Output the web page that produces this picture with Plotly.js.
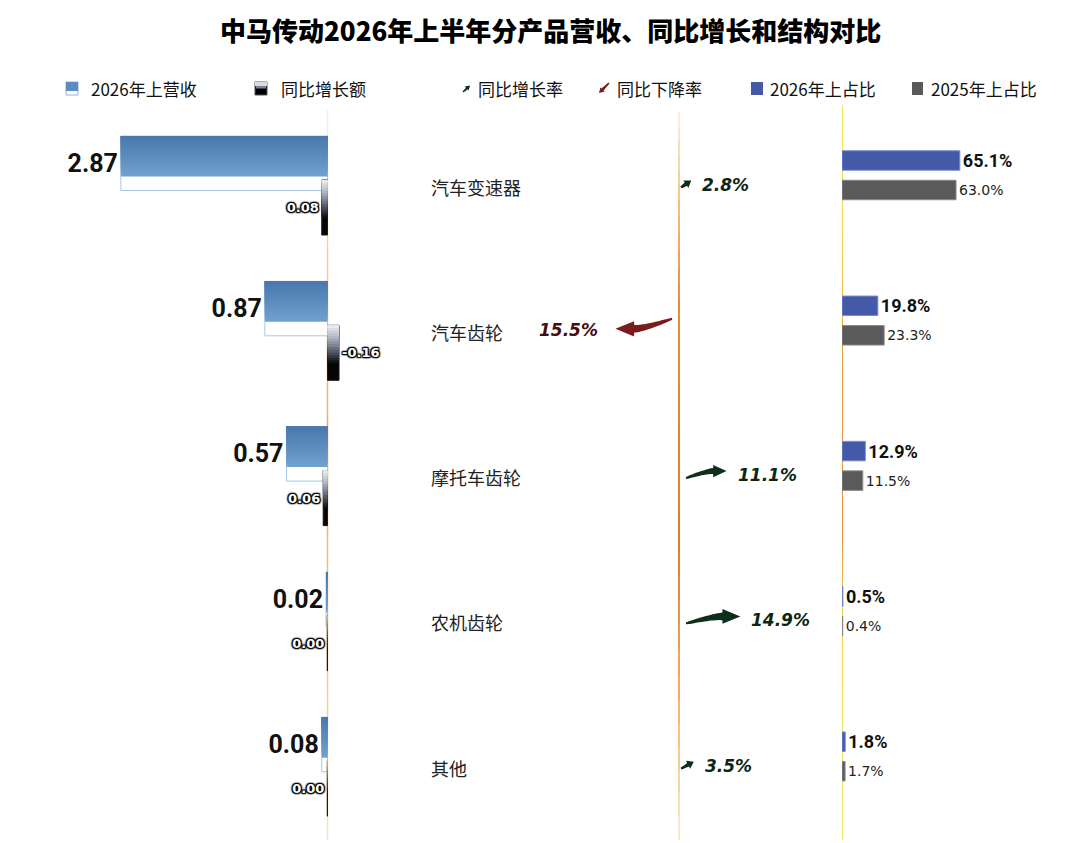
<!DOCTYPE html>
<html><head><meta charset="utf-8">
<script src="https://cdn.plot.ly/plotly-3.0.1.min.js"></script>
<style>html,body{margin:0;padding:0;background:#fff;} #chart{width:1080px;height:843px;}</style>
</head><body><div id="chart"></div>
<script>
// ---------------- data ----------------
const categories   = ['汽车变速器', '汽车齿轮', '摩托车齿轮', '农机齿轮', '其他'];
const revenue2026  = [2.87, 0.87, 0.57, 0.02, 0.08];      // 2026年上营收
const revenueChange= [0.08, -0.16, 0.06, 0.003, 0.003];   // 同比增长额
const changeRate   = [2.8, -15.5, 11.1, 14.9, 3.5];       // 同比增长率 / 下降率 (%)
const share2026    = [65.1, 19.8, 12.9, 0.5, 1.8];        // 2026年上占比 (%)
const share2025    = [63.0, 23.3, 11.5, 0.4, 1.7];        // 2025年上占比 (%)
const legendLabels = ['2026年上营收', '同比增长额', '同比增长率', '同比下降率', '2026年上占比', '2025年上占比'];
const titleText    = '中马传动2026年上半年分产品营收、同比增长和结构对比';

// ---------------- geometry (layout only) ----------------
const W = 1080, H = 843;
const U = 145.3, Y0 = 185.5, YTOP = 105;
const ZL = 327.5, SL = 72, LDOM = [0, 420];
const ZM = 679, SM = 3.65, MDOM = [480, 830];
const ZR = 842, SR = 1.81, RDOM = [842, 1080];
const idx = categories.map((_, i) => i);

const GREEN = '#0f2e1c', GREEN_T = '#0c2616', RED = '#7b1c1c', RED_T = '#470d10';
const BLUE = '#4459a8', GRAY = '#5a5a5a';

function hexToRgb(h) { h = h.replace('#', ''); return [0, 2, 4].map(k => parseInt(h.substr(k, 2), 16)); }
function mix(a, b, t) { const A = hexToRgb(a), B = hexToRgb(b); return 'rgb(' + A.map((v, k) => Math.round(v + (B[k] - v) * t)).join(',') + ')'; }
function rampColor(stops, t) {
  for (let s = 0; s < stops.length - 1; s++) {
    if (t <= stops[s + 1][0]) return mix(stops[s][1], stops[s + 1][1], (t - stops[s][0]) / (stops[s + 1][0] - stops[s][0]));
  }
  return stops[stops.length - 1][1];
}

function hbar(x, xaxis, topPx, hPx, color, extra) {
  return Object.assign({
    type: 'bar', orientation: 'h', x: x, y: idx, xaxis: xaxis, yaxis: 'y',
    width: hPx / U, offset: topPx / U,
    marker: {color: color, line: {width: 0}},
    hoverinfo: 'skip', showlegend: false, cliponaxis: false,
    textangle: 0, constraintext: 'none'
  }, extra || {});
}
// stacked-from-top layers giving a vertical colour gradient
function gradientLayers(x, xaxis, topPx, hPx, stops, n) {
  const out = [];
  for (let k = 0; k < n; k++) {
    const h = hPx * (n - k) / n;
    const t = (h - hPx / n / 2) / hPx;
    out.push(hbar(x, xaxis, topPx, h, rampColor(stops, t)));
  }
  return out;
}

const traces = [];
// revenue bars (blue fading, white bottom strip)
traces.push(hbar(revenue2026, 'x', -49.5, 54.5, '#ffffff', {
  marker: {color: '#ffffff', line: {color: '#a8c6e6', width: 1}},
  text: revenue2026.map(v => v.toFixed(2)), textposition: 'outside',
  textfont: {family: "Roboto, 'Liberation Sans Narrow', sans-serif", size: 25, weight: 'bold', color: '#111'}
}));
traces.push(...gradientLayers(revenue2026, 'x', -49.5, 40.5, [[0, '#4777ad'], [1, '#72a1cf']], 14));

// change bars (light grey top to black)
traces.push(hbar(revenueChange, 'x', -5.5, 55, '#050505', {
  marker: {color: '#050505', line: {color: '#1a1a1a', width: 1}},
  text: revenueChange.map(v => v.toFixed(2)), textposition: 'outside',
  textfont: {family: 'DejaVu Sans', size: 13, weight: 'bold', color: '#ffffff',
             shadow: '0px 0px 2px #000, 0px 0px 2px #000, 0px 0px 3px #000, 1px 1px 1px #000, -1px -1px 1px #000, 1px -1px 1px #000, -1px 1px 1px #000'}
}));
traces.push(...gradientLayers(revenueChange, 'x', -5.5, 38,
  [[0, '#eef0f3'], [0.3, '#b4bbc8'], [0.6, '#6a7284'], [1, '#08090b']], 14));

// share bars
traces.push(hbar(share2026, 'x3', -34.75, 19.5, BLUE, {
  marker: {color: BLUE, line: {color: '#7d8dc8', width: 1}},
  text: share2026.map(v => v.toFixed(1) + '%'), textposition: 'outside',
  textfont: {family: 'Roboto, sans-serif', size: 18, weight: 'bold', color: '#111'}
}));
traces.push(hbar(share2025, 'x3', -5.25, 19.5, GRAY, {
  marker: {color: GRAY, line: {color: '#8a8a8a', width: 1}},
  text: share2025.map(v => v.toFixed(1) + '%'), textposition: 'outside',
  textfont: {family: 'DejaVu Sans', size: 14, color: '#222'}
}));

// ---------------- shapes ----------------
const shapes = [];
const annotations = [];

function gradLine(xref, xval, stops, width) {
  for (let s = 0; s < stops.length - 1; s++) {
    const [ya, ca] = stops[s], [yb, cb] = stops[s + 1];
    const n = 6;
    for (let k = 0; k < n; k++) {
      const y0 = ya + (yb - ya) * k / n, y1 = ya + (yb - ya) * (k + 1) / n + 0.5;
      shapes.push({type: 'line', layer: 'below', xref: xref, yref: 'paper', x0: xval, x1: xval,
        y0: 1 - y0 / H, y1: 1 - y1 / H, line: {color: mix(ca, cb, (k + 0.5) / n), width: width}});
    }
  }
}
gradLine('x', 0, [[110, '#fbf1de'], [250, '#f2d29e'], [450, '#eaab64'], [620, '#efc584'], [840, '#f8e6bd']], 1.5);
gradLine('x2', 0, [[112, '#fcf1df'], [200, '#f1c486'], [300, '#e58c3e'], [550, '#e07a30'], [700, '#efb466'], [840, '#fcecd0']], 2);
gradLine('x3', 0, [[105, '#f2e85a'], [260, '#f0d050'], [330, '#eb9c42'], [540, '#ea9238'], [610, '#f0d24f'], [840, '#f4ee72']], 2);

function arrowPath(T, P, o, conv) {
  let C = o.curved ? [(T[0] + P[0]) / 2, P[1]] : [(T[0] + P[0]) / 2, (T[1] + P[1]) / 2];
  let ux = P[0] - C[0], uy = P[1] - C[1];
  const ul = Math.hypot(ux, uy); ux /= ul; uy /= ul;
  const nx = -uy, ny = ux;
  const hb = [P[0] - o.hl * ux, P[1] - o.hl * uy];
  const Cb = (o.hl < ul * 0.9) ? C : [(T[0] + hb[0]) / 2, (T[1] + hb[1]) / 2];
  const N = 16, up = [], lo = [];
  for (let k = 0; k <= N; k++) {
    const t = k / N;
    const bx = (1 - t) * (1 - t) * T[0] + 2 * (1 - t) * t * Cb[0] + t * t * hb[0];
    const by = (1 - t) * (1 - t) * T[1] + 2 * (1 - t) * t * Cb[1] + t * t * hb[1];
    let dx = 2 * (1 - t) * (Cb[0] - T[0]) + 2 * t * (hb[0] - Cb[0]);
    let dy = 2 * (1 - t) * (Cb[1] - T[1]) + 2 * t * (hb[1] - Cb[1]);
    const dl = Math.hypot(dx, dy) || 1; dx /= dl; dy /= dl;
    const w = o.w0 + (o.w1 - o.w0) * Math.pow(t, 0.7);
    up.push(conv(bx - dy * w, by + dx * w));
    lo.push(conv(bx + dy * w, by - dx * w));
  }
  let p = 'M' + up[0];
  for (let k = 1; k <= N; k++) p += ' L' + up[k];
  p += ' L' + conv(hb[0] + nx * o.hh, hb[1] + ny * o.hh);
  p += ' L' + conv(P[0], P[1]);
  p += ' L' + conv(hb[0] - nx * o.hh, hb[1] - ny * o.hh);
  for (let k = N; k >= 0; k--) p += ' L' + lo[k];
  return p + ' Z';
}

// middle: growth / decline arrows from changeRate
const convMid = (px, py) => ((px - ZM) / SM).toFixed(4) + ',' + ((py - Y0) / U).toFixed(4);
changeRate.forEach((r, i) => {
  const dir = r >= 0 ? 1 : -1;
  const L = SM * Math.abs(r);
  const c = Y0 + U * i;
  const gap = L > 20 ? 7 : 2;
  const T = [ZM + dir * gap, c + (dir > 0 ? 2 : -12)];
  const P = [ZM + dir * gap + SM * r, c + (dir > 0 ? -5 : -2)];
  const o = L > 20
    ? {curved: true, hl: 0.33 * L, hh: 0.1 * L + 2, w0: 1.0, w1: 0.06 * L + 0.6}
    : {curved: false, hl: 6.5, hh: 4.5, w0: 1.0, w1: 2.0};
  shapes.push({type: 'path', layer: 'above', xref: 'x2', yref: 'y', path: arrowPath(T, P, o, convMid),
               fillcolor: dir > 0 ? GREEN : RED, line: {width: 0}});
  const tipOff = dir * gap + SM * r;
  annotations.push({xref: 'x2', yref: 'y',
    x: (tipOff + dir * (dir > 0 ? 9 : 15)) / SM, y: i - 1 / U,
    xanchor: dir > 0 ? 'left' : 'right', yanchor: 'middle', showarrow: false,
    text: Math.abs(r).toFixed(1) + '%',
    font: {family: 'DejaVu Sans', size: 17, weight: 'bold', style: 'italic', color: dir > 0 ? GREEN_T : RED_T}});
});

// category labels
categories.forEach((c, i) => annotations.push({
  xref: 'paper', yref: 'y', x: 429 / W, y: i + 1 / U, xanchor: 'left', yanchor: 'middle',
  showarrow: false, text: c, font: {family: "'Noto Sans CJK SC', sans-serif", size: 18, color: '#222'}
}));

// title
annotations.push({xref: 'paper', yref: 'paper', x: 550 / W, y: 1 - 29 / H, xanchor: 'center', yanchor: 'middle',
  showarrow: false, text: titleText,
  font: {family: "'Noto Sans CJK SC', sans-serif", size: 26, weight: 900, color: '#000'}});

// legend (manual)
const px2 = (x) => x / W, py2 = (y) => 1 - y / H;
const convPaper = (x, y) => px2(x).toFixed(5) + ',' + py2(y).toFixed(5);
function rect(x0, x1, y0, y1, fill, line) {
  shapes.push({type: 'rect', xref: 'paper', yref: 'paper', x0: px2(x0), x1: px2(x1), y0: py2(y1), y1: py2(y0),
               fillcolor: fill, line: line || {width: 0}});
}
rect(66, 78, 82, 95, '#ffffff', {color: '#8fb4dc', width: 1});
rect(66, 78, 82, 91, '#5a8cc0');
rect(255, 267, 82, 95, '#000000', {color: '#555', width: 1});
rect(255, 267, 82, 86, '#d8dbe0');
rect(256, 266, 86, 88.5, '#7a8293');
shapes.push({type: 'path', xref: 'paper', yref: 'paper', fillcolor: GREEN, line: {width: 0},
  path: arrowPath([463, 92], [470, 85.5], {curved: false, hl: 4.5, hh: 2.8, w0: 0.6, w1: 1.1}, convPaper)});
shapes.push({type: 'path', xref: 'paper', yref: 'paper', fillcolor: RED, line: {width: 0},
  path: arrowPath([609, 83], [599, 93], {curved: false, hl: 5, hh: 3, w0: 0.7, w1: 1.5}, convPaper)});
rect(751, 763, 82, 95, BLUE);
rect(912, 923, 82, 95, '#595959');
const legX = [89, 279, 476, 615, 768, 929];
legendLabels.forEach((t, k) => annotations.push({
  xref: 'paper', yref: 'paper', x: px2(legX[k]), y: py2(88.5), xanchor: 'left', yanchor: 'middle',
  showarrow: false, text: t, font: {family: "'Noto Sans CJK SC', sans-serif", size: 17, color: '#111'}
}));

// ---------------- layout ----------------
const hidden = {visible: false, showgrid: false, zeroline: false, fixedrange: true};
const layout = {
  width: W, height: H, margin: {l: 0, r: 0, t: 0, b: 0, pad: 0},
  paper_bgcolor: '#ffffff', plot_bgcolor: 'rgba(0,0,0,0)',
  barmode: 'overlay', showlegend: false,
  xaxis: Object.assign({domain: [LDOM[0] / W, LDOM[1] / W], anchor: 'y',
    range: [(ZL - LDOM[0]) / SL, (ZL - LDOM[1]) / SL]}, hidden),
  xaxis2: Object.assign({domain: [MDOM[0] / W, MDOM[1] / W], anchor: 'y',
    range: [(MDOM[0] - ZM) / SM, (MDOM[1] - ZM) / SM]}, hidden),
  xaxis3: Object.assign({domain: [RDOM[0] / W, RDOM[1] / W], anchor: 'y',
    range: [(RDOM[0] - ZR) / SR, (RDOM[1] - ZR) / SR]}, hidden),
  yaxis: Object.assign({domain: [0, 1 - YTOP / H], range: [(H - Y0) / U, (YTOP - Y0) / U]}, hidden),
  shapes: shapes, annotations: annotations
};
Plotly.newPlot('chart', traces, layout, {staticPlot: true, displayModeBar: false});
</script>
</body></html>
